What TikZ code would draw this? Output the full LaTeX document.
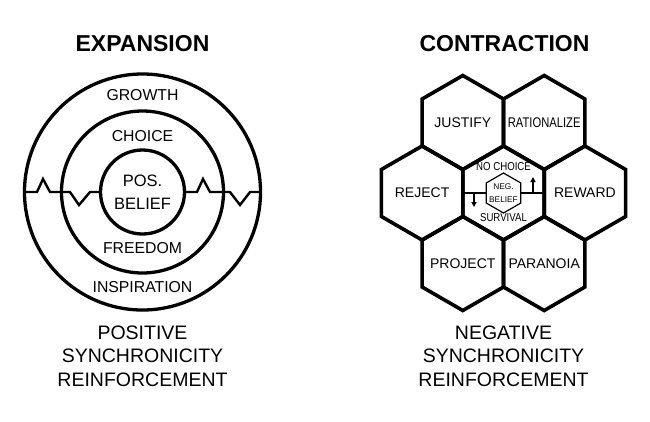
\documentclass[tikz,border=0pt]{standalone}
\usepackage{graphicx}
\usepackage{fontspec}
\setmainfont{Liberation Sans}
\usetikzlibrary{shapes.geometric, arrows.meta}

\begin{document}
\begin{tikzpicture}[x=1pt, y=-1pt,
  ring/.style={draw, circle, line width=3.3pt, inner sep=0pt, outer sep=0pt},
  cell/.style={draw, regular polygon, regular polygon sides=6,
               shape border rotate=30, minimum size=94pt, line width=3.6pt,
               inner sep=0pt, outer sep=0pt},
  celllabel/.style={font=\fontsize{14}{15}\selectfont},
  heading/.style={font=\fontsize{23}{26}\selectfont\bfseries},
  caption/.style={align=center, font=\fontsize{19.5}{23.5}\selectfont},
  ringlabel/.style={font=\fontsize{15.8}{18}\selectfont},
  zig/.style={line width=2.4pt, line join=miter},
  flow/.style={line width=1.4pt, -{Triangle[length=5pt, width=5pt]}}]
  \useasboundingbox (0,0) rectangle (650,421);

  % expansion side
  \node[heading] (expansion) at (142.5,44) {EXPANSION};
  \foreach \name/\d in {outer/236, middle/162}
    \node[ring, minimum size=\d pt] (\name) at (142.5,192) {};
  \node[ring, minimum size=84pt, align=center,
        font=\fontsize{16.5}{22.5}\selectfont] (inner) at (142.5,192)
    {POS.\\BELIEF};
  \foreach \txt/\y in {GROWTH/95, CHOICE/136.5, FREEDOM/248, INSPIRATION/287.5}
    \node[ringlabel] (\txt) at (142.5,\y) {\txt};
  \draw[zig] (outer.west) -- (37,192) -- (43,179) -- (50,192)
    -- (70,192) -- (79,205) -- (90,192) -- (inner.west);
  \draw[zig] (inner.east) -- (197,192) -- (203,179) -- (210,192)
    -- (230,192) -- (240,205) -- (250,192) -- (outer.east);
  \node[caption] (poscap) at (142.5,356)
    {POSITIVE\\SYNCHRONICITY\\REINFORCEMENT};

  % contraction side
  \node[heading] (contraction) at (504.5,44) {CONTRACTION};
  \foreach \name/\col/\row in
    {justify/-0.5/-1, ration/0.5/-1, reject/-1/0, core/0/0,
     reward/1/0, project/-0.5/1, paranoia/0.5/1}
    \node[cell] (\name) at ({503.5+\col*81.4}, {193+\row*70.5}) {};
  \foreach \name/\txt in
    {justify/JUSTIFY, ration/{\scalebox{0.8}[1]{RATIONALIZE}},
     reject/REJECT, reward/REWARD, project/PROJECT, paranoia/PARANOIA}
    \node[celllabel] (\name-text) at (\name.center) {\txt};
  \node[draw, regular polygon, regular polygon sides=6, shape border rotate=30,
        minimum size=40pt, line width=1.2pt, inner sep=0pt, outer sep=0pt]
    (neg) at (503.5,193) {};
  \node[align=center, font=\fontsize{8.3}{13.5}\selectfont] (negtext)
    at (neg.center) {NEG.\\BELIEF};
  \draw[line width=1.6pt] (core.west) -- (neg.west);
  \draw[line width=1.6pt] (neg.east) -- (core.east);
  \coordinate (dropat) at (474,193);
  \coordinate (dropend) at (474,207);
  \coordinate (riseat) at (533,193);
  \coordinate (riseend) at (533,177);
  \draw[flow] (dropat) -- (dropend);
  \draw[flow] (riseat) -- (riseend);
  \node[font=\fontsize{11.5}{13}\selectfont] (nochoice) at (503.5,167)
    {\scalebox{0.84}[1]{NO CHOICE}};
  \node[font=\fontsize{11.5}{13}\selectfont] (survival) at (503.5,218)
    {\scalebox{0.84}[1]{SURVIVAL}};
  \node[caption] (negcap) at (503.5,356)
    {NEGATIVE\\SYNCHRONICITY\\REINFORCEMENT};
\end{tikzpicture}
\end{document}
